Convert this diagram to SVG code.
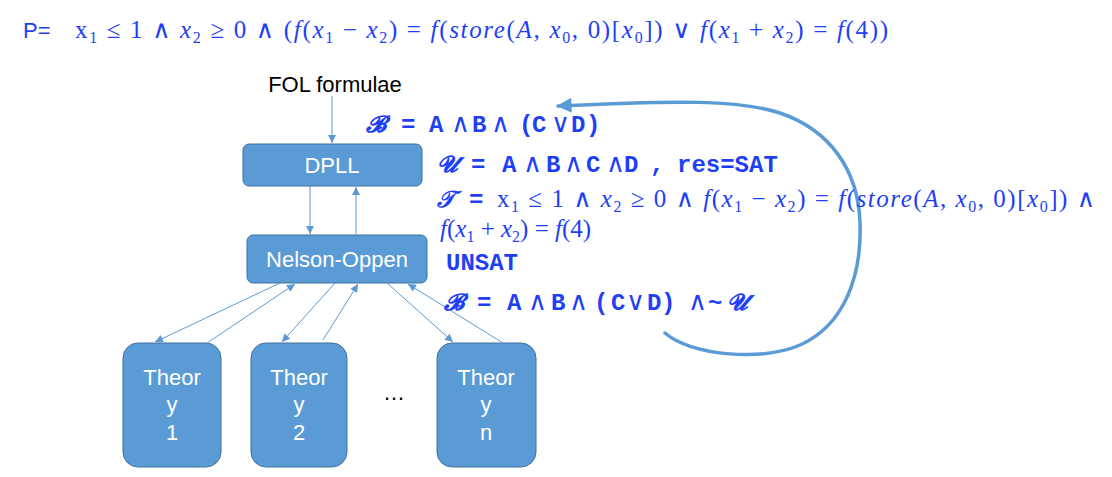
<svg xmlns="http://www.w3.org/2000/svg" width="1112" height="477" viewBox="0 0 1112 477">
<style>
.bg{fill:#ffffff}
.box{fill:#5B9BD5;stroke:#41719C;stroke-width:1}
.bt{font-family:"Liberation Sans",Arial,sans-serif;font-size:22px;fill:#ffffff;text-anchor:middle}
.lbl{font-family:"Liberation Sans",Arial,sans-serif;font-size:22px;fill:#000000}
.m{font-family:"Liberation Serif","DejaVu Serif",serif;font-size:25px;fill:#1E3FF5}
.i{font-style:italic}
.sb{font-size:16px}
.w{font-family:"DejaVu Sans",sans-serif;font-size:25px;font-style:normal}
.c{font-family:"Liberation Mono","DejaVu Sans Mono",monospace;font-weight:bold;font-size:24px;fill:#1E3FF5}
.c .op{font-family:"DejaVu Sans","Liberation Sans",sans-serif;font-weight:normal;font-size:26px}
.sc{font-family:"DejaVu Serif","DejaVu Sans","Noto Sans",serif;font-size:23px;font-weight:bold;font-style:italic;fill:#1E3FF5}
.p{font-family:"Liberation Sans",Arial,sans-serif;font-size:22px;fill:#1E3FF5}
.ln{fill:none;stroke:#5B9BD5;stroke-width:1}
.big{fill:none;stroke:#5B9BD5;stroke-width:3.5;stroke-linecap:round}
</style>
<defs>
<marker id="ah" viewBox="0 0 10 10" refX="10" refY="5" markerWidth="9" markerHeight="8" markerUnits="userSpaceOnUse" orient="auto">
<path d="M0,0 L10,5 L0,10 z" fill="#5B9BD5"/>
</marker>
<marker id="bh" viewBox="0 0 10 10" refX="9" refY="5" markerWidth="20" markerHeight="15" markerUnits="userSpaceOnUse" orient="auto">
<path d="M0,0 L10,5 L0,10 z" fill="#5B9BD5"/>
</marker>
</defs>
<rect class="bg" x="0" y="0" width="1112" height="477"/>

<g id="formula-P">
<text class="p" x="23" y="38">P=</text>
<text class="m" x="75" y="38" textLength="813" lengthAdjust="spacing">x<tspan class="sb" dy="5">1</tspan><tspan dy="-5"> ≤ 1 </tspan><tspan class="w">∧</tspan> <tspan class="i">x</tspan><tspan class="sb" dy="5">2</tspan><tspan dy="-5"> ≥ 0 </tspan><tspan class="w">∧</tspan> (<tspan class="i">f</tspan>(<tspan class="i">x</tspan><tspan class="sb" dy="5">1</tspan><tspan dy="-5"> − </tspan><tspan class="i">x</tspan><tspan class="sb" dy="5">2</tspan><tspan dy="-5">) = </tspan><tspan class="i">f</tspan>(<tspan class="i">store</tspan>(<tspan class="i">A</tspan>, <tspan class="i">x</tspan><tspan class="sb" dy="5">0</tspan><tspan dy="-5">, 0)[</tspan><tspan class="i">x</tspan><tspan class="sb" dy="5">0</tspan><tspan dy="-5">]) </tspan><tspan class="w">∨</tspan> <tspan class="i">f</tspan>(<tspan class="i">x</tspan><tspan class="sb" dy="5">1</tspan><tspan dy="-5"> + </tspan><tspan class="i">x</tspan><tspan class="sb" dy="5">2</tspan><tspan dy="-5">) = </tspan><tspan class="i">f</tspan>(4))</text>
</g>

<g id="fol-label">
<text class="lbl" x="335" y="92" text-anchor="middle">FOL formulae</text>
</g>

<g id="node-dpll">
<rect class="box" x="243" y="144" width="179" height="42" rx="6"/>
<text class="bt" x="332" y="173">DPLL</text>
</g>

<g id="node-nelson-oppen">
<rect class="box" x="247" y="235" width="180" height="48" rx="6"/>
<text class="bt" x="337" y="267">Nelson-Oppen</text>
</g>

<g id="node-theory-1">
<rect class="box" x="123" y="343" width="98" height="124" rx="15"/>
<text class="bt" x="172" y="385">Theor</text>
<text class="bt" x="172" y="412">y</text>
<text class="bt" x="172" y="440">1</text>
</g>

<g id="node-theory-2">
<rect class="box" x="251" y="343" width="96" height="124" rx="15"/>
<text class="bt" x="299" y="385">Theor</text>
<text class="bt" x="299" y="412">y</text>
<text class="bt" x="299" y="440">2</text>
</g>

<g id="node-theory-n">
<rect class="box" x="437" y="343" width="99" height="124" rx="15"/>
<text class="bt" x="486" y="385">Theor</text>
<text class="bt" x="486" y="412">y</text>
<text class="bt" x="486" y="440">n</text>
</g>

<g id="ellipsis">
<text class="lbl" x="394" y="400" text-anchor="middle" font-size="18">…</text>
</g>

<g id="connectors">
<line class="ln" x1="332" y1="96" x2="332" y2="143" marker-end="url(#ah)"/>
<line class="ln" x1="310" y1="186" x2="310" y2="234" marker-end="url(#ah)"/>
<line class="ln" x1="356" y1="235" x2="356" y2="187" marker-end="url(#ah)"/>
<line class="ln" x1="280" y1="283" x2="155" y2="342" marker-end="url(#ah)"/>
<line class="ln" x1="207" y1="343" x2="295" y2="284" marker-end="url(#ah)"/>
<line class="ln" x1="335" y1="283" x2="282" y2="342" marker-end="url(#ah)"/>
<line class="ln" x1="323" y1="340" x2="358" y2="284" marker-end="url(#ah)"/>
<line class="ln" x1="387" y1="283" x2="453" y2="342" marker-end="url(#ah)"/>
<line class="ln" x1="503" y1="343" x2="408" y2="284" marker-end="url(#ah)"/>
<path class="big" d="M665,333 C690,355 760,362 800,345 C845,325 862,275 860,222 C858,170 830,130 780,113 C740,100 680,100 558,106" marker-end="url(#bh)"/>
</g>

<g id="text-B1">
<text class="sc" x="366" y="132">𝓑</text>
<text class="c" x="401 429 451 472 491 519 532 551 571 586" y="132">=A<tspan class="op">∧</tspan>B<tspan class="op">∧</tspan>(C<tspan class="op">∨</tspan>D)</text>
</g>

<g id="text-U">
<text class="sc" x="437" y="172">𝓤</text>
<text class="c" x="471 502 523 546 564 586 606 624 650" y="172">=A<tspan class="op">∧</tspan>B<tspan class="op">∧</tspan>C<tspan class="op">∧</tspan>D,</text>
<text class="c" x="677" y="172">res=SAT</text>
</g>

<g id="text-T">
<text class="sc" x="437" y="207">𝒯</text>
<text class="c" x="469" y="207">=</text>
<text class="m" x="497" y="207" textLength="598" lengthAdjust="spacing">x<tspan class="sb" dy="5">1</tspan><tspan dy="-5"> ≤ 1 </tspan><tspan class="w">∧</tspan> <tspan class="i">x</tspan><tspan class="sb" dy="5">2</tspan><tspan dy="-5"> ≥ 0 </tspan><tspan class="w">∧</tspan> <tspan class="i">f</tspan>(<tspan class="i">x</tspan><tspan class="sb" dy="5">1</tspan><tspan dy="-5"> − </tspan><tspan class="i">x</tspan><tspan class="sb" dy="5">2</tspan><tspan dy="-5">) = </tspan><tspan class="i">f</tspan>(<tspan class="i">store</tspan>(<tspan class="i">A</tspan>, <tspan class="i">x</tspan><tspan class="sb" dy="5">0</tspan><tspan dy="-5">, 0)[</tspan><tspan class="i">x</tspan><tspan class="sb" dy="5">0</tspan><tspan dy="-5">]) </tspan><tspan class="w">∧</tspan></text>
<text class="m" x="440" y="237" font-size="24"><tspan class="i">f</tspan>(<tspan class="i">x</tspan><tspan class="sb" dy="5">1</tspan><tspan dy="-5"> + </tspan><tspan class="i">x</tspan><tspan class="sb" dy="5">2</tspan><tspan dy="-5">) = </tspan><tspan class="i">f</tspan>(4)</text>
</g>

<g id="text-UNSAT">
<text class="c" x="446" y="270">UNSAT</text>
</g>

<g id="text-B2">
<text class="sc" x="444" y="310">𝓑</text>
<text class="c" x="477 507 528 551 569 594 611 626 647 661" y="310">=A<tspan class="op">∧</tspan>B<tspan class="op">∧</tspan>(C<tspan class="op">∨</tspan>D)</text>
<text class="c" x="688 708" y="310"><tspan class="op">∧</tspan>~</text>
<text class="sc" x="727" y="310">𝓤</text>
</g>
</svg>
